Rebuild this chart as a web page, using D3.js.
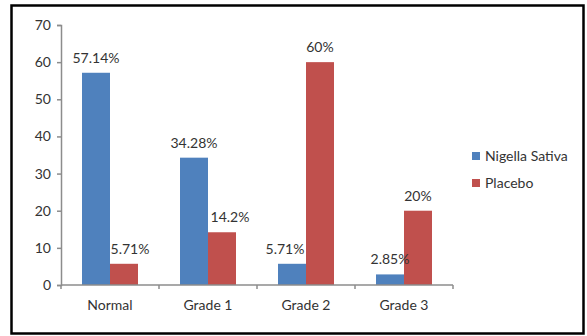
<!DOCTYPE html>
<html><head><meta charset="utf-8">
<script src="https://cdn.jsdelivr.net/npm/d3@7/dist/d3.min.js"></script>
<style>body{margin:0;background:#fff}svg{display:block}text{font-family:Lato,"Liberation Sans",sans-serif;fill:#333}</style>
</head><body>
<script>
const categories = ["Normal", "Grade 1", "Grade 2", "Grade 3"];
const seriesNames = ["Nigella Sativa", "Placebo"];
const nigellaValues = [57.14, 34.28, 5.71, 2.85];
const placeboValues = [5.71, 14.2, 60, 20];
const nigellaLabels = ["57.14%", "34.28%", "5.71%", "2.85%"];
const placeboLabels = ["5.71%", "14.2%", "60%", "20%"];
const yTicks = [0, 10, 20, 30, 40, 50, 60, 70];

const colors = ["#4F81BD", "#C0504D"];
const labelNudge = [[0, 6], [0, 8], [-7, 0], [0, 0]];

const W = 587, H = 336;
const svg = d3.select("body").append("svg").attr("width", W).attr("height", H);
svg.append("rect").attr("x", 11.5).attr("y", 5.5).attr("width", 572).attr("height", 328)
  .attr("fill", "#fff").attr("stroke", "#000").attr("stroke-width", 2.5);

const x0 = d3.scaleBand().domain(categories).range([61, 453]).paddingInner(0.4286).paddingOuter(0.2143);
const x1 = d3.scaleBand().domain(seriesNames).range([0, x0.bandwidth()]);
const y = d3.scaleLinear().domain([0, 70]).range([285, 25]);

const data = categories.map((c, i) => ({
  cat: c, i,
  vals: [
    {s: seriesNames[0], v: nigellaValues[i], lab: nigellaLabels[i], k: 0},
    {s: seriesNames[1], v: placeboValues[i], lab: placeboLabels[i], k: 1}
  ]
}));

// y axis
const yAxis = svg.append("g").attr("transform", "translate(61,0)")
  .call(d3.axisLeft(y).tickValues(yTicks).tickSize(4).tickPadding(6));
yAxis.select(".domain").attr("stroke", "#8c8c8c").attr("stroke-width", 1.5);
yAxis.selectAll(".tick line").attr("stroke", "#8c8c8c").attr("stroke-width", 1.5);
yAxis.selectAll(".tick text").style("font-size", "14px").attr("fill", "#333");

const groups = svg.append("g").selectAll("g").data(data).join("g")
  .attr("transform", d => `translate(${x0(d.cat)},0)`);
groups.selectAll("rect").data(d => d.vals).join("rect")
  .attr("x", d => x1(d.s)).attr("width", x1.bandwidth())
  .attr("y", d => y(d.v)).attr("height", d => y(0) - y(d.v))
  .attr("fill", d => colors[d.k]);
groups.selectAll("text").data(d => d.vals.map(v => ({...v, i: d.i}))).join("text")
  .attr("x", d => x1(d.s) + x1.bandwidth() / 2 + labelNudge[d.i][d.k])
  .attr("y", d => y(d.v) - 10)
  .attr("text-anchor", "middle").style("font-size", "14px")
  .text(d => d.lab);

// x axis
const xTickPos = d3.range(categories.length + 1).map(i => 61 + i * 98);
const xg = svg.append("g");
xg.append("line").attr("x1", 61).attr("x2", 453).attr("y1", y(0)).attr("y2", y(0))
  .attr("stroke", "#8c8c8c").attr("stroke-width", 1.5);
xg.selectAll(".xt").data(xTickPos).join("line").attr("class", "xt")
  .attr("x1", d => d).attr("x2", d => d).attr("y1", y(0)).attr("y2", y(0) + 4)
  .attr("stroke", "#8c8c8c").attr("stroke-width", 1.5);
xg.selectAll(".xl").data(categories).join("text").attr("class", "xl")
  .attr("x", d => x0(d) + x0.bandwidth() / 2).attr("y", 310)
  .attr("text-anchor", "middle").style("font-size", "14px").text(d => d);

// legend
const leg = svg.append("g").selectAll("g").data(seriesNames).join("g")
  .attr("transform", (d, i) => `translate(472,${152 + i * 27})`);
leg.append("rect").attr("width", 8).attr("height", 8).attr("fill", (d, i) => colors[i]);
leg.append("text").attr("x", 13).attr("y", 9).style("font-size", "14px").text(d => d);
</script>
</body></html>
